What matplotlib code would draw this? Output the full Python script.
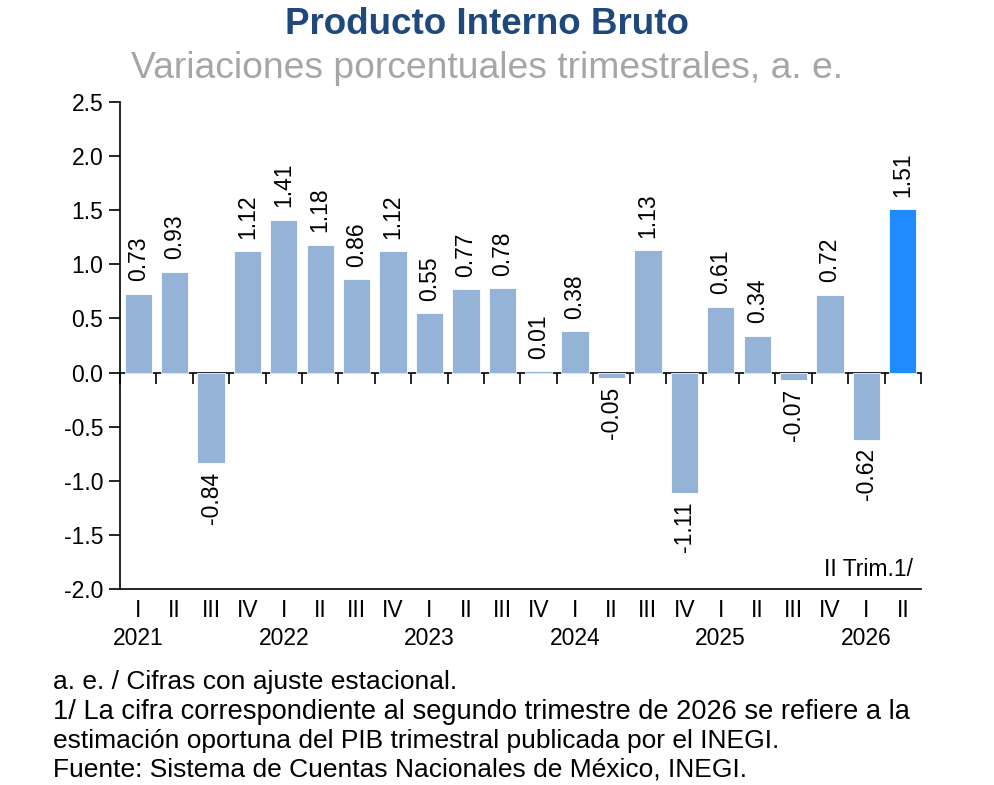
import matplotlib
matplotlib.use("Agg")
import matplotlib.pyplot as plt
import matplotlib.transforms as mtransforms
import numpy as np

quarters = ["I", "II", "III", "IV", "I", "II", "III", "IV", "I", "II", "III", "IV",
            "I", "II", "III", "IV", "I", "II", "III", "IV", "I", "II"]
years = ["2021", "2022", "2023", "2024", "2025", "2026"]
values = [0.73, 0.93, -0.84, 1.12, 1.41, 1.18, 0.86, 1.12, 0.55, 0.77, 0.78, 0.01,
          0.38, -0.05, 1.13, -1.11, 0.61, 0.34, -0.07, 0.72, -0.62, 1.51]
yticks = [-2.0, -1.5, -1.0, -0.5, 0.0, 0.5, 1.0, 1.5, 2.0, 2.5]
labels = ["0.73", "0.93", "-0.84", "1.12", "1.41", "1.18", "0.86", "1.12", "0.55", "0.77",
          "0.78", "0.01", "0.38", "-0.05", "1.13", "-1.11", "0.61", "0.34", "-0.07", "0.72",
          "-0.62", "1.51"]

plt.rcParams['font.family'] = ['Liberation Sans', 'DejaVu Sans']

fig = plt.figure(figsize=(9.95, 7.85), dpi=100)
ax = fig.add_axes([120/995, 1-589/785, 801/995, 487/785])

x = np.arange(len(values))
colors = ["#95B3D7"] * (len(values) - 1) + ["#1E8CFF"]
ax.bar(x, values, width=0.75, color=colors, edgecolor="white", linewidth=0.6, zorder=2)

ax.set_xlim(-0.5, len(values) - 0.5)
ax.set_ylim(-2.0, 2.5)
ax.set_yticks(yticks)
ax.set_yticklabels([f"{v:.1f}" for v in yticks], fontsize=16.5)
ax.tick_params(axis='y', direction='out', length=8, width=1.2, pad=4)
ax.set_xticks(x)
ax.set_xticklabels(quarters, fontsize=16.5)
ax.tick_params(axis='x', length=0, pad=7)
for s in ["top", "right"]:
    ax.spines[s].set_visible(False)
for s in ["left", "bottom"]:
    ax.spines[s].set_linewidth(1.2)

# zero axis with category boundary ticks
zero_loc = (0 - (-2.0)) / (2.5 - (-2.0))
sec = ax.secondary_xaxis(zero_loc)
sec.set_xticks(np.arange(-0.5, len(values), 1.0))
sec.set_xticklabels([])
sec.tick_params(direction='out', length=8, width=1.2)
sec.spines['bottom'].set_linewidth(1.2)

# data labels
for xi, v, lab in zip(x, values, labels):
    if v >= 0:
        ax.annotate(lab, (xi, v), xytext=(0, 9), textcoords='offset points',
                    rotation=90, ha='center', va='bottom', fontsize=16.5)
    else:
        ax.annotate(lab, (xi, v), xytext=(0, -6), textcoords='offset points',
                    rotation=90, ha='center', va='top', fontsize=16.5)

# year labels
trans = mtransforms.blended_transform_factory(ax.transData, ax.transAxes)
for i, yr in enumerate(years):
    ax.text(i * 4, -0.101, yr, transform=trans, ha='center', va='center', fontsize=16.5)

ax.text(0.99, 0.04, "II Trim.1/", transform=ax.transAxes, ha='right', va='center', fontsize=16.5)

fig.text(487/995, 1-24/785, "Producto Interno Bruto", ha='center', va='center',
         fontsize=26.5, fontweight='bold', color="#1F497D")
fig.text(487/995, 1-68/785, "Variaciones porcentuales trimestrales, a. e.", ha='center', va='center',
         fontsize=26.8, color="#A6A6A6")

notes = ["a. e. / Cifras con ajuste estacional.",
         "1/ La cifra correspondiente al segundo trimestre de 2026 se refiere a la",
         "estimación oportuna del PIB trimestral publicada por el INEGI.",
         "Fuente: Sistema de Cuentas Nacionales de México, INEGI."]
sizes = [19, 19.6, 19, 19]
ys = [682, 712, 741, 770]
for t, yy, fs in zip(notes, ys, sizes):
    fig.text(53/995, 1-yy/785, t, ha='left', va='center', fontsize=fs)

fig.savefig("out.png", dpi=100)
